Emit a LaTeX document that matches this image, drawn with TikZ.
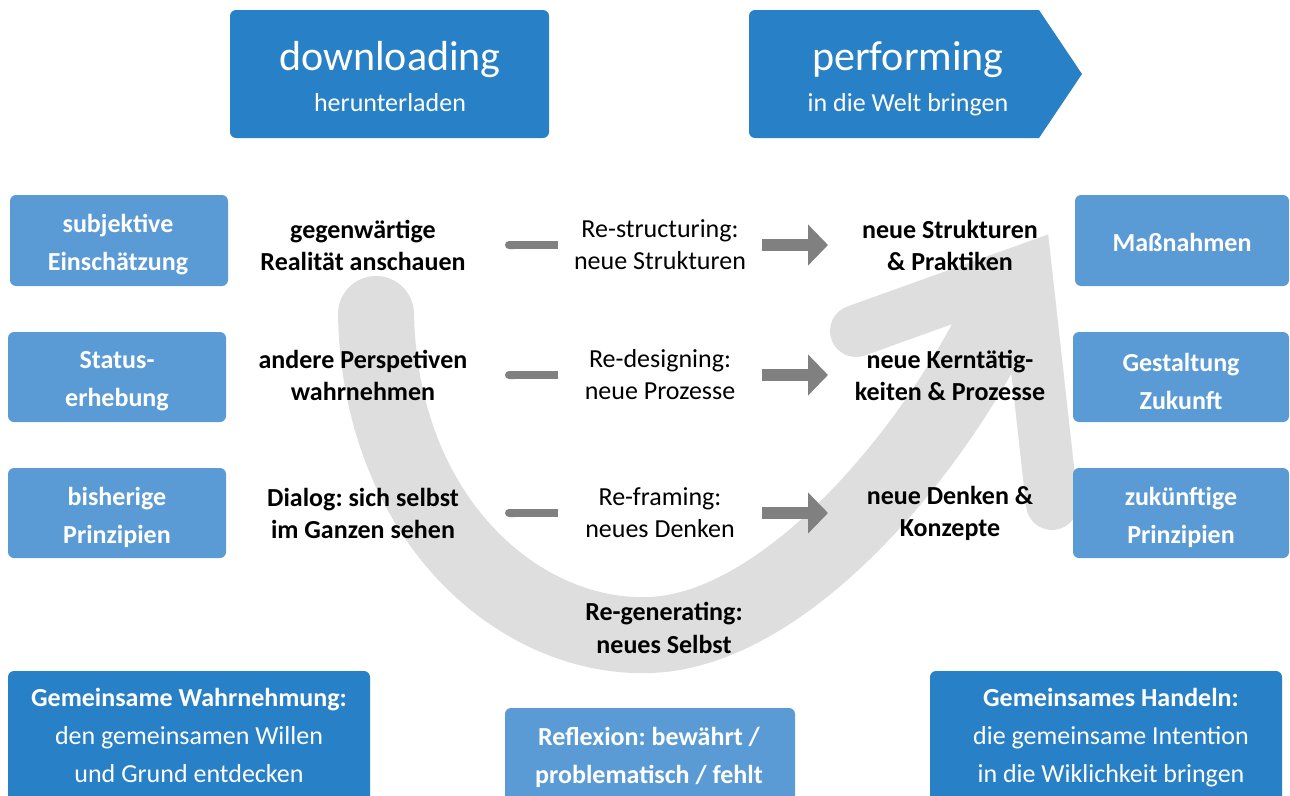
\documentclass[tikz,border=0pt]{standalone}
\usepackage{fontspec}
\setmainfont{Carlito}
\usetikzlibrary{arrows.meta,fit}
\definecolor{dblue}{RGB}{40,128,198}
\definecolor{lblue}{RGB}{91,155,213}
\definecolor{arcgray}{RGB}{222,222,222}
\definecolor{bargray}{RGB}{128,128,128}
\begin{document}
\frenchspacing
\begin{tikzpicture}[x=0.75pt,y=-0.75pt,
  darkbox/.style={fill=dblue, rounded corners=4.5pt, inner sep=0pt},
  lightbox/.style={fill=lblue, rounded corners=4.5pt, inner sep=0pt},
  boxtext/.style={text=white, align=center, inner sep=0pt,
    font=\bfseries\fontsize{19.5pt}{28.5pt}\selectfont},
  boxplain/.style={text=white, align=center, inner sep=0pt,
    font=\fontsize{19.5pt}{28.5pt}\selectfont},
  sidetext/.style={align=center, inner sep=0pt, outer sep=0pt,
    font=\bfseries\fontsize{19.5pt}{24pt}\selectfont},
  midtext/.style={align=center, inner sep=0pt, outer sep=0pt,
    font=\fontsize{19.5pt}{24pt}\selectfont},
  bigtitle/.style={anchor=base, text=white, inner sep=0pt, font=\fontsize{31.5pt}{36pt}\selectfont},
  subtitle/.style={anchor=base, text=white, inner sep=0pt, font=\fontsize{19.5pt}{24pt}\selectfont},
  dashbar/.style={draw=bargray, line width=6pt, {Round Cap}-},
  grayarrow/.style={draw=bargray, line width=9pt, -{Triangle[length=15pt,width=30pt]}},
  uturn/.style={draw=arcgray, line cap=round}
]
\useasboundingbox (0,0) rectangle (1290,796);

% large U-turn arrow in the background
\coordinate (ustart) at (376,314);
\coordinate (ulow) at (650,635);
\coordinate (uend) at (1010,292);
\coordinate (utip) at (1026,270);
\coordinate (ubarbl) at (856,331);
\coordinate (ubarbr) at (1052,504);
\draw[uturn, line width=57pt] (ustart) .. controls (380,520) and (520,640) .. (ulow)
  .. controls (790,630) and (945,440) .. (uend);
\draw[uturn, line width=39pt, line join=miter] (ubarbl) -- (utip) -- (ubarbr);

% header: downloading
\node[darkbox, fit={(230,10) (549,138)}] (down) {};
\node[bigtitle] (downt) at (390,70) {downloading};
\node[subtitle] (downs) at (390,111) {herunterladen};

% header: performing (arrow-shaped)
\fill[dblue] (1039,10) -- (1082,74) -- (1039,138) -- (770,138)
  [rounded corners=4.5pt] -- (749,138) -- (749,10) -- (770,10) [sharp corners] -- cycle;
\node[bigtitle] (perft) at (908,70) {performing};
\node[subtitle] (perfs) at (908,111) {in die Welt bringen};

% left column
\node[lightbox, fit={(10,195) (228,286)}] (l1) {};
\node[lightbox, fit={(8,332) (226,422)}] (l2) {};
\node[lightbox, fit={(8,468) (226,558)}] (l3) {};
\node[boxtext] (l1t) at (118,245) {subjektive\\Einschätzung};
\node[boxtext] (l2t) at (117,381) {Status-\\erhebung};
\node[boxtext] (l3t) at (117,517) {bisherige\\Prinzipien};

% right column
\node[lightbox, fit={(1075,195) (1289,286)}] (r1) {};
\node[lightbox, fit={(1073,332) (1289,422)}] (r2) {};
\node[lightbox, fit={(1073,468) (1289,558)}] (r3) {};
\node[boxtext] (r1t) at (1182,242) {Maßnahmen};
\node[boxtext] (r2t) at (1181,381) {Gestaltung\\Zukunft};
\node[boxtext] (r3t) at (1181,517) {zukünftige\\Prinzipien};

% rows of the U process
\node[sidetext, minimum width=213pt] (a1) at (363,245) {gegenwärtige\\Realität anschauen};
\node[midtext, minimum width=153pt] (b1) at (660,245) {Re-structuring:\\neue Strukturen};
\node[sidetext, minimum width=183pt] (c1) at (950,245) {neue Strukturen\\\& Praktiken};

\node[sidetext, minimum width=213pt] (a2) at (363,375) {andere Perspetiven\\wahrnehmen};
\node[midtext, minimum width=153pt] (b2) at (660,375) {Re-designing:\\neue Prozesse};
\node[sidetext, minimum width=183pt] (c2) at (950,375) {neue Kerntätig-\\keiten \& Prozesse};

\node[sidetext, minimum width=213pt] (a3) at (363,513) {Dialog: sich selbst\\im Ganzen sehen};
\node[midtext, minimum width=153pt] (b3) at (660,513) {Re-framing:\\neues Denken};
\node[sidetext, minimum width=183pt] (c3) at (950,513) {neue Denken \&\\Konzepte};

\draw[dashbar] (a1.east) -- (b1.west);
\draw[grayarrow] (b1.east) -- (c1.west);
\draw[dashbar] (a2.east) -- (b2.west);
\draw[grayarrow] (b2.east) -- (c2.west);
\draw[dashbar] (a3.east) -- (b3.west);
\draw[grayarrow] (b3.east) -- (c3.west);

\node[sidetext, font=\bfseries\fontsize{19.5pt}{24.75pt}\selectfont] (regen) at (664,628) {Re-generating:\\neues Selbst};

% bottom boxes
\node[darkbox, fit={(8,671) (370,803)}] (wahr) {};
\node[boxplain] (wahrt) at (189,735)
  {\textbf{Gemeinsame Wahrnehmung:}\\den gemeinsamen Willen\\und Grund entdecken};
\node[lightbox, fit={(505,708) (795,803)}] (refl) {};
\node[boxtext] (reflt) at (649,757) {Reflexion: bewährt /\\problematisch / fehlt};
\node[darkbox, fit={(930,671) (1282,803)}] (hand) {};
\node[boxplain] (handt) at (1111,738)
  {\textbf{Gemeinsames Handeln:}\\die gemeinsame Intention\\in die Wiklichkeit bringen};
\end{tikzpicture}
\end{document}
